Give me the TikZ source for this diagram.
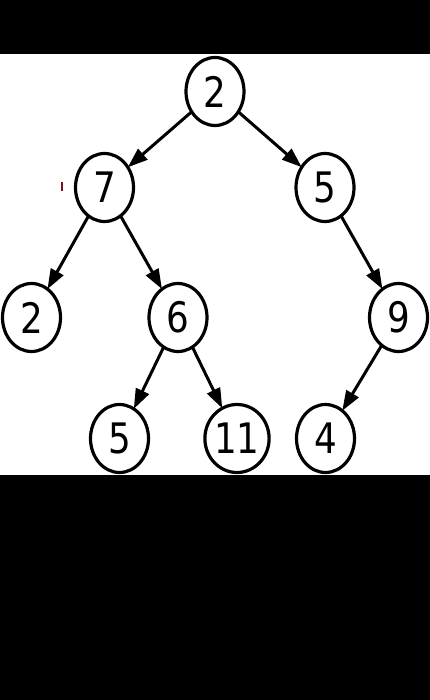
\documentclass[tikz,border=0pt]{standalone}
\usepackage{fontspec}
\setmainfont{DejaVu Sans}
\usepackage{graphicx}
\usetikzlibrary{shapes.geometric,arrows.meta}
\begin{document}
\begin{tikzpicture}[x=1pt,y=-1pt,
  tnode/.style={ellipse,draw=black,line width=3.2pt,minimum width=58pt,minimum height=68pt,inner sep=0pt,outer sep=0pt,font=\fontsize{42}{42}\selectfont},
  edge/.style={line width=3pt,-{Triangle[length=20pt,width=14pt]}}]
\fill[black] (0,0) rectangle (430,54);
\fill[white] (0,54) rectangle (430,475);
\fill[black] (0,475) rectangle (430,700);
\useasboundingbox (0,0) rectangle (430,700);
\node[tnode] (r)  at (215,91.5)  {\scalebox{0.85}[1]{2}};
\node[tnode] (a)  at (104.5,187.5) {\scalebox{0.85}[1]{7}};
\node[tnode] (b)  at (325,187.5) {\scalebox{0.85}[1]{5}};
\node[tnode] (c)  at (31.5,317.5) {\scalebox{0.85}[1]{2}};
\node[tnode] (d)  at (178,317.5) {\scalebox{0.85}[1]{6}};
\node[tnode] (e)  at (398.5,317.5) {\scalebox{0.85}[1]{9}};
\node[tnode] (f)  at (119.5,438.5) {\scalebox{0.85}[1]{5}};
\node[tnode] (g)  at (237,438.5) {\scalebox{0.85}[1]{11}};
\node[tnode] (h)  at (325.5,438.5) {\scalebox{0.85}[1]{4}};
\draw[edge] (r) -- (a);
\draw[edge] (r) -- (b);
\draw[edge] (a) -- (c);
\draw[edge] (a) -- (d);
\draw[edge] (b) -- (e);
\draw[edge] (d) -- (f);
\draw[edge] (d) -- (g);
\draw[edge] (e) -- (h);
\fill[fill={rgb,255:red,122;green,16;blue,32}] (61,182) rectangle (63,191);
\end{tikzpicture}
\end{document}
